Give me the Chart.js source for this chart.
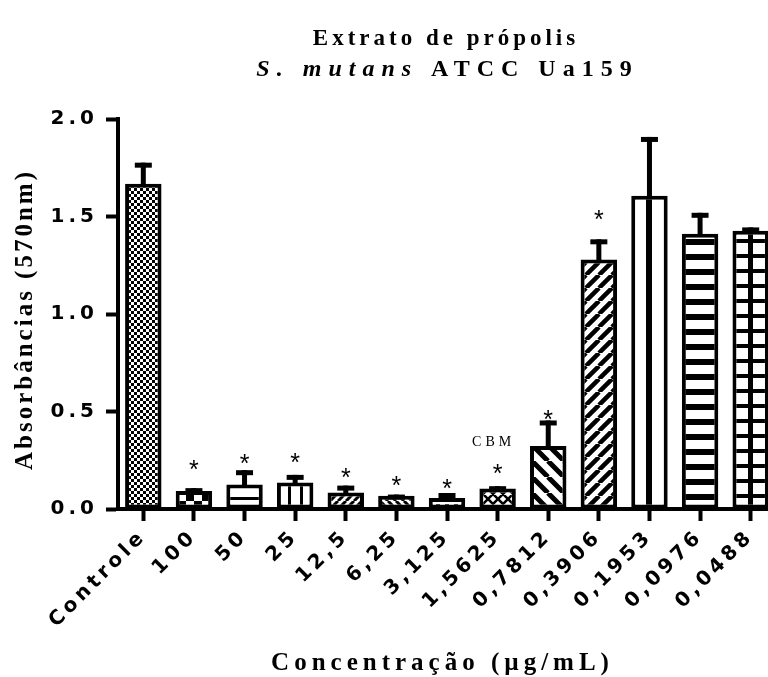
<!DOCTYPE html>
<html>
<head>
<meta charset="utf-8">
<script src="https://cdn.jsdelivr.net/npm/chart.js@4.4.1/dist/chart.umd.min.js"></script>
<style>
  html, body { margin: 0; padding: 0; overflow: hidden; background: #fff; }
</style>
</head>
<body>
<canvas id="chart" width="776" height="677"></canvas>
<script>
// concentrations (µg/mL) and mean absorbance at 570 nm, with upper error (SD)
const categories = ['Controle', '100', '50', '25', '12,5', '6,25', '3,125', '1,5625', '0,7812', '0,3906', '0,1953', '0,0976', '0,0488'];
const absorbance = [1.668, 0.092, 0.126, 0.136, 0.085, 0.068, 0.056, 0.105, 0.323, 1.279, 1.606, 1.412, 1.427];
const errorSD = [0.108, 0.015, 0.073, 0.039, 0.035, 0.006, 0.026, 0.012, 0.131, 0.104, 0.302, 0.107, 0.017];
// significance marks (value where the * sits), null = none
const starLevel = [null, 0.234, 0.264, 0.271, 0.192, 0.153, 0.136, 0.214, 0.49, 1.513, null, null, null];
const cbmIndex = 7;
const cbmLevel = 0.344;
const yTicks = [0, 0.5, 1.0, 1.5, 2.0];

const canvas = document.getElementById('chart');
const ctx = canvas.getContext('2d');

// a tile is drawn once, then shifted so that the pattern lines up with its bar
function tile(w, h, draw) {
  const base = document.createElement('canvas');
  base.width = w; base.height = h;
  const g = base.getContext('2d');
  g.fillStyle = '#fff';
  g.fillRect(0, 0, w, h);
  g.fillStyle = '#000';
  g.strokeStyle = '#000';
  draw(g, w, h);
  return (ox, oy) => {
    const c = document.createElement('canvas');
    c.width = w; c.height = h;
    const s = c.getContext('2d');
    ox = ((Math.round(ox) % w) + w) % w;
    oy = ((Math.round(oy) % h) + h) % h;
    for (const ax of [-w, 0]) for (const ay of [-h, 0]) s.drawImage(base, ox + ax, oy + ay);
    return ctx.createPattern(c, 'repeat');
  };
}
// vertical stripes as a hard-stop gradient; bands are [from, to] around the bar centre
function vstripes(bands) {
  const half = 24;
  return (bx) => {
    const gr = ctx.createLinearGradient(bx - half, 0, bx + half, 0);
    gr.addColorStop(0, '#fff');
    bands.forEach(([a, b]) => {
      const s = (a + half) / (2 * half), e = (b + half) / (2 * half);
      gr.addColorStop(s, '#fff');
      gr.addColorStop(s, '#000');
      gr.addColorStop(e, '#000');
      gr.addColorStop(e, '#fff');
    });
    gr.addColorStop(1, '#fff');
    return gr;
  };
}
function checker(s) {
  return tile(2 * s, 2 * s, g => { g.fillRect(0, 0, s, s); g.fillRect(s, s, s, s); });
}
function hlines(p, t) {
  return tile(p, p, g => g.fillRect(0, 0, p, t));
}
function diag(p, t, dir) {
  return tile(p, p, g => {
    g.lineWidth = t;
    g.beginPath();
    for (const k of [-p, 0, p]) {
      if (dir > 0) { g.moveTo(k, p); g.lineTo(k + p, 0); }
      else { g.moveTo(k, 0); g.lineTo(k + p, p); }
    }
    g.stroke();
  });
}
function cross(p, t) {
  return tile(p, p, g => {
    g.lineWidth = t;
    g.beginPath();
    for (const k of [-p, 0, p]) {
      g.moveTo(k, p); g.lineTo(k + p, 0);
      g.moveTo(k, 0); g.lineTo(k + p, p);
    }
    g.stroke();
  });
}

// fill of each bar, dx shifts a pattern relative to the bar centre
const fills = [
  { make: checker(3), dx: 0 },
  { make: checker(8), dx: -8 },
  { make: hlines(12, 3), dx: 0 },
  { stripes: vstripes([[-7.5, -4.5], [4.5, 7.5]]) },
  { make: diag(8, 3, 1), dx: 0 },
  { make: diag(8, 3, -1), dx: 0 },
  { make: tile(9, 8, g => g.fillRect(0, 3, 4, 3)), dx: -2 },
  { make: cross(10, 2.5), dx: 0 },
  { make: diag(16, 5, -1), dx: 0 },
  { make: diag(13, 4.5, 1), dx: 0 },
  { stripes: vstripes([[-3, 3]]) },
  { make: hlines(15, 6), dx: 0 },
  { make: tile(30, 15, g => { g.fillRect(0, 0, 30, 4); g.fillRect(0, 0, 5, 15); }), dx: -2.5 }
];

function barFill(c) {
  const i = c.dataIndex;
  const bar = c.chart.getDatasetMeta(0).data[i];
  const bx = bar && isFinite(bar.x) ? bar.x : 0;
  const by = c.chart.chartArea ? c.chart.chartArea.bottom : 0;
  if (fills[i].stripes) return fills[i].stripes(bx);
  return fills[i].make(bx + fills[i].dx, by);
}

function spaced(text, font, spacing) {
  ctx.font = font;
  ctx.letterSpacing = spacing + 'px';
  return ctx.measureText(text).width - spacing;
}

const decorations = {
  id: 'decorations',
  beforeLayout(chart) { chart.ctx.letterSpacing = '4px'; },
  beforeDraw(chart) { chart.ctx.letterSpacing = '4px'; },
  afterDatasetsDraw(chart) {
    const c = chart.ctx;
    const y = chart.scales.y;
    const meta = chart.getDatasetMeta(0);
    c.save();
    c.fillStyle = '#000';
    meta.data.forEach((bar, i) => {
      const top = y.getPixelForValue(absorbance[i] + errorSD[i]);
      c.fillRect(bar.x - 2.5, top, 5, bar.y - top + 2);
      c.fillRect(bar.x - 8.5, top, 17, 5);
    });
    c.font = '25px "Liberation Sans"';
    c.letterSpacing = '0px';
    c.textAlign = 'center';
    c.textBaseline = 'alphabetic';
    meta.data.forEach((bar, i) => {
      if (starLevel[i] === null) return;
      c.fillText('*', bar.x, y.getPixelForValue(starLevel[i]) + 14.5);
    });
    c.font = '14px "Liberation Serif"';
    c.letterSpacing = '4px';
    c.textBaseline = 'middle';
    c.fillText('CBM', meta.data[cbmIndex].x - 4, y.getPixelForValue(cbmLevel));
    c.restore();
  },
  afterDraw(chart) {
    const c = chart.ctx;
    c.save();
    c.fillStyle = '#000';
    c.textBaseline = 'alphabetic';
    c.textAlign = 'left';
    const cx = 444;
    // title, line 1
    const f1 = 'bold 23px "Liberation Serif"';
    let w = spaced('Extrato de própolis', f1, 4);
    c.fillText('Extrato de própolis', cx - w / 2, 45);
    // title, line 2
    const fb = 'bold 24px "Liberation Serif"';
    const fi = 'italic bold 24px "Liberation Serif"';
    const sp2 = 7;
    const wa = spaced('S. mutans ', fi, sp2);
    const wb = spaced('ATCC Ua159', fb, sp2);
    const x0 = cx - (wa + sp2 + wb) / 2;
    spaced('S. mutans ', fi, sp2);
    c.fillText('S. mutans ', x0, 76);
    spaced('ATCC Ua159', fb, sp2);
    c.fillText('ATCC Ua159', x0 + wa + sp2, 76);
    // x axis title
    const fx = 'bold 25px "Liberation Serif"';
    w = spaced('Concentração (µg/mL)', fx, 5);
    c.fillText('Concentração (µg/mL)', 440 - w / 2, 670);
    // y axis title
    const fy = 'bold 25px "Liberation Serif"';
    w = spaced('Absorbâncias (570nm)', fy, 3);
    c.translate(32, 321);
    c.rotate(-Math.PI / 2);
    c.fillText('Absorbâncias (570nm)', -w / 2, 0);
    c.restore();
  }
};

const chart = new Chart(ctx, {
  type: 'bar',
  data: {
    labels: categories,
    datasets: [{
      data: absorbance,
      backgroundColor: barFill,
      borderColor: '#000',
      borderWidth: 4,
      borderSkipped: false,
      barPercentage: 0.72,
      categoryPercentage: 1
    }]
  },
  options: {
    responsive: false,
    animation: false,
    events: [],
    layout: { padding: { top: 119, right: 0, left: 0, bottom: 0 } },
    plugins: {
      legend: { display: false },
      tooltip: { enabled: false },
      title: { display: false }
    },
    scales: {
      x: {
        offset: true,
        afterFit(scale) { scale.height = 168; },
        grid: { offset: false, drawOnChartArea: false, tickLength: 12, tickWidth: 4, color: '#000' },
        border: { color: '#000', width: 4 },
        ticks: {
          color: '#000',
          autoSkip: false,
          maxRotation: 45,
          minRotation: 45,
          padding: 4,
          font: { family: 'DejaVu Sans', weight: 'bold', size: 20 }
        }
      },
      y: {
        min: 0,
        max: 2,
        afterFit(scale) { scale.width = 118; },
        afterBuildTicks(scale) { scale.ticks = yTicks.map(v => ({ value: v })); },
        grid: { drawOnChartArea: false, tickLength: 12, tickWidth: 4, color: '#000' },
        border: { color: '#000', width: 4 },
        ticks: {
          color: '#000',
          padding: 8,
          font: { family: 'DejaVu Sans', weight: 'bold', size: 20 },
          callback: v => v.toFixed(1)
        }
      }
    }
  },
  plugins: [decorations]
});
// second pass: bar positions are known now, so the fills can be aligned
chart.update();
</script>
</body>
</html>
